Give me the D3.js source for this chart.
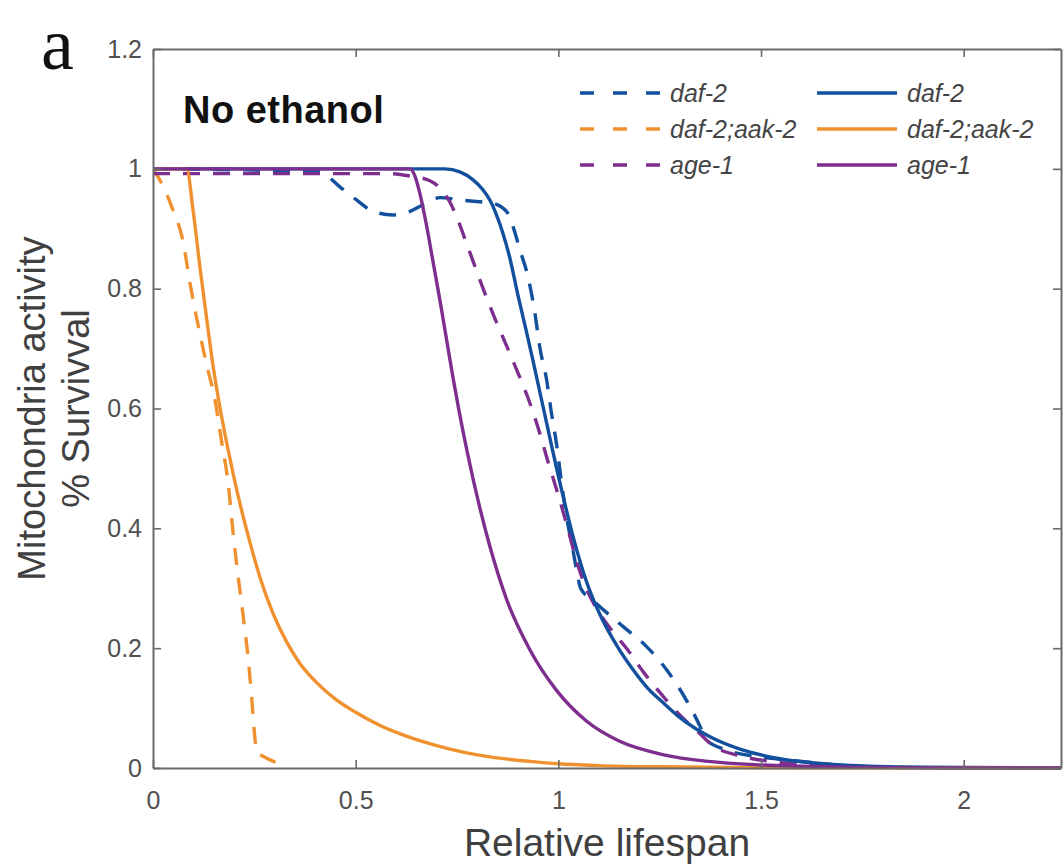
<!DOCTYPE html>
<html>
<head>
<meta charset="utf-8">
<script src="https://cdn.jsdelivr.net/npm/d3@7"></script>
<style>
  body { margin: 0; background: #fff; }
  svg { display: block; }
</style>
</head>
<body>
<svg id="chart" width="1063" height="867"></svg>
<script>
// ---- axis ticks ----
const xTicks = [0, 0.5, 1, 1.5, 2];
const yTicks = [0, 0.2, 0.4, 0.6, 0.8, 1, 1.2];

// ---- strains / legend labels ----
const strains = ["daf-2", "daf-2;aak-2", "age-1"];
const strainColors = ["#12509d", "#f0912f", "#7e2e8e"];

// ---- dashed curves ----
const daf2DashX = [0, 0.41, 0.461, 0.502, 0.543, 0.592, 0.634, 0.666, 0.708, 0.757, 0.806, 0.835, 0.872, 0.888, 0.905, 0.925, 0.942, 0.954, 0.971, 0.983, 0.995, 1.008, 1.02, 1.036, 1.045, 1.055, 1.085, 1.16, 1.217, 1.267, 1.316, 1.35, 1.365, 1.415, 1.49, 1.57, 1.7];
const daf2DashY = [1, 0.995, 0.97, 0.948, 0.929, 0.923, 0.929, 0.94, 0.952, 0.948, 0.945, 0.943, 0.929, 0.904, 0.865, 0.82, 0.76, 0.703, 0.648, 0.592, 0.543, 0.476, 0.42, 0.364, 0.33, 0.30, 0.28, 0.236, 0.203, 0.164, 0.113, 0.069, 0.047, 0.03, 0.019, 0.013, 0.004];

const aak2DashX = [0, 0.005, 0.046, 0.075, 0.091, 0.111, 0.132, 0.153, 0.169, 0.186, 0.198, 0.21, 0.222, 0.234, 0.243, 0.251, 0.256, 0.27, 0.30, 0.33];
const aak2DashY = [1, 0.995, 0.937, 0.876, 0.81, 0.74, 0.674, 0.614, 0.546, 0.472, 0.39, 0.32, 0.256, 0.188, 0.121, 0.053, 0.026, 0.02, 0.01, 0];

const age1DashX = [0, 0.584, 0.634, 0.683, 0.708, 0.732, 0.752, 0.77, 0.79, 0.81, 0.84, 0.872, 0.90, 0.925, 0.95, 0.975, 1.0, 1.024, 1.045, 1.07, 1.10, 1.135, 1.168, 1.21, 1.258, 1.30, 1.345, 1.38, 1.45, 1.55, 1.7];
const age1DashY = [0.992, 0.992, 0.988, 0.98, 0.968, 0.945, 0.915, 0.882, 0.845, 0.808, 0.756, 0.705, 0.66, 0.618, 0.568, 0.51, 0.455, 0.398, 0.345, 0.298, 0.26, 0.227, 0.2, 0.16, 0.12, 0.088, 0.06, 0.038, 0.02, 0.009, 0.003];

// ---- solid curves ----
const daf2SolidX = [0, 0.72, 0.757, 0.789, 0.814, 0.831, 0.848, 0.863, 0.88, 0.90, 0.92, 0.94, 0.96, 0.98, 1.0, 1.02, 1.036, 1.07, 1.10, 1.15, 1.18, 1.218, 1.26, 1.30, 1.38, 1.45, 1.55, 1.7, 1.9, 2.24];
const daf2SolidY = [1, 1, 0.995, 0.982, 0.965, 0.948, 0.922, 0.893, 0.852, 0.79, 0.732, 0.672, 0.61, 0.548, 0.487, 0.43, 0.387, 0.31, 0.26, 0.198, 0.168, 0.135, 0.108, 0.084, 0.05, 0.031, 0.015, 0.005, 0.0012, 0];

const aak2SolidX = [0, 0.083, 0.099, 0.116, 0.132, 0.148, 0.165, 0.182, 0.198, 0.215, 0.239, 0.264, 0.296, 0.33, 0.362, 0.40, 0.45, 0.5, 0.56, 0.61, 0.67, 0.73, 0.8, 0.86, 0.93, 1.0, 1.1, 1.25, 1.5, 2.24];
const aak2SolidY = [1, 1, 0.93, 0.835, 0.752, 0.672, 0.602, 0.542, 0.49, 0.44, 0.377, 0.318, 0.258, 0.21, 0.175, 0.145, 0.115, 0.093, 0.071, 0.057, 0.043, 0.032, 0.022, 0.016, 0.011, 0.007, 0.004, 0.002, 0.0005, 0];

const age1SolidX = [0, 0.634, 0.645, 0.658, 0.675, 0.69, 0.708, 0.724, 0.74, 0.755, 0.775, 0.806, 0.831, 0.872, 0.93, 0.995, 1.07, 1.15, 1.26, 1.37, 1.5, 1.7, 2.0, 2.24];
const age1SolidY = [1, 1, 0.99, 0.96, 0.905, 0.848, 0.78, 0.716, 0.652, 0.596, 0.528, 0.435, 0.37, 0.282, 0.197, 0.13, 0.078, 0.045, 0.022, 0.011, 0.005, 0.0015, 0, 0];

const zip = (xs, ys) => xs.map((x, i) => ({ x, y: ys[i] }));

// draw order: dashed first, solids on top (age-1 last)
const series = [
  { pts: zip(daf2DashX, daf2DashY), color: strainColors[0], dashed: true },
  { pts: zip(aak2DashX, aak2DashY), color: strainColors[1], dashed: true },
  { pts: zip(age1DashX, age1DashY), color: strainColors[2], dashed: true },
  { pts: zip(daf2SolidX, daf2SolidY), color: strainColors[0], dashed: false },
  { pts: zip(aak2SolidX, aak2SolidY), color: strainColors[1], dashed: false },
  { pts: zip(age1SolidX, age1SolidY), color: strainColors[2], dashed: false }
];

const plot = { left: 153, top: 49, right: 1061, bottom: 768 };
const DASH = "17,13";
const LW = 3.4;
const axisColor = "#6a6a6a";
const tickTextColor = "#505050";
const font = "'Liberation Sans', Arial, Helvetica, sans-serif";

const svg = d3.select("#chart");

const x = d3.scaleLinear().domain([0, 2.24]).range([plot.left, plot.right]);
const y = d3.scaleLinear().domain([0, 1.2]).range([plot.bottom, plot.top]);

// clip for the curves
svg.append("defs").append("clipPath").attr("id", "plotClip")
  .append("rect")
  .attr("x", plot.left).attr("y", plot.top - 4)
  .attr("width", plot.right - plot.left).attr("height", plot.bottom - plot.top + 6);

const line = d3.line().x(d => x(d.x)).y(d => y(d.y)).curve(d3.curveMonotoneX);

const curves = svg.append("g").attr("clip-path", "url(#plotClip)");
series.forEach(s => {
  curves.append("path")
    .datum(s.pts)
    .attr("d", line)
    .attr("fill", "none")
    .attr("stroke", s.color)
    .attr("stroke-width", LW)
    .attr("stroke-linejoin", "round")
    .attr("stroke-dasharray", s.dashed ? DASH : null);
});

// ---- axes (box with inward ticks) ----
const fmt = d3.format("~g");
function styleAxis(g) {
  g.selectAll("path.domain").attr("stroke", axisColor).attr("stroke-width", 2);
  g.selectAll(".tick line").attr("stroke", axisColor).attr("stroke-width", 1.6);
  g.selectAll("text").attr("fill", tickTextColor).attr("font-family", font).attr("font-size", 25);
}

svg.append("g")
  .attr("transform", `translate(0,${plot.bottom})`)
  .call(d3.axisBottom(x).tickValues(xTicks).tickFormat(fmt).tickSizeInner(-8).tickSizeOuter(0).tickPadding(23))
  .call(styleAxis);

svg.append("g")
  .attr("transform", `translate(0,${plot.top})`)
  .call(d3.axisTop(x).tickValues(xTicks).tickFormat("").tickSizeInner(-8).tickSizeOuter(0))
  .call(styleAxis);

svg.append("g")
  .attr("transform", `translate(${plot.left},0)`)
  .call(d3.axisLeft(y).tickValues(yTicks).tickFormat(fmt).tickSizeInner(-8).tickSizeOuter(0).tickPadding(11))
  .call(styleAxis);

svg.append("g")
  .attr("transform", `translate(${plot.right},0)`)
  .call(d3.axisRight(y).tickValues(yTicks).tickFormat("").tickSizeInner(-8).tickSizeOuter(0))
  .call(styleAxis);

// ---- axis titles ----
svg.append("text")
  .attr("x", (plot.left + plot.right) / 2)
  .attr("y", 856)
  .attr("text-anchor", "middle")
  .attr("font-family", font)
  .attr("font-size", 39)
  .attr("fill", "#404040")
  .text("Relative lifespan");

const yTitle = svg.append("text")
  .attr("transform", `translate(0,${(plot.top + plot.bottom) / 2}) rotate(-90)`)
  .attr("text-anchor", "middle")
  .attr("font-family", font)
  .attr("font-size", 38)
  .attr("fill", "#404040");
yTitle.append("tspan").attr("x", 0).attr("y", 45).text("Mitochondria activity");
yTitle.append("tspan").attr("x", 0).attr("y", 89).text("% Survivval");

// ---- panel letter and condition label ----
svg.append("text")
  .attr("x", 41).attr("y", 69)
  .attr("font-family", "'Liberation Serif', 'Times New Roman', serif")
  .attr("font-size", 74)
  .attr("fill", "#111")
  .text("a");

svg.append("text")
  .attr("x", 183).attr("y", 123)
  .attr("font-family", font)
  .attr("font-weight", "bold")
  .attr("font-size", 38)
  .attr("letter-spacing", 0.5)
  .attr("fill", "#111")
  .text("No ethanol");

// ---- legend: dashed column, solid column ----
const legendRows = [93, 129, 165];
const legendCols = [
  { x0: 580, x1: 660, tx: 670, dashed: true },
  { x0: 817, x1: 897, tx: 907, dashed: false }
];
const legend = svg.append("g");
legendCols.forEach(col => {
  strains.forEach((name, i) => {
    legend.append("line")
      .attr("x1", col.x0).attr("x2", col.x1)
      .attr("y1", legendRows[i]).attr("y2", legendRows[i])
      .attr("stroke", strainColors[i])
      .attr("stroke-width", LW)
      .attr("stroke-dasharray", col.dashed ? "14,19" : null);
    legend.append("text")
      .attr("x", col.tx).attr("y", legendRows[i])
      .attr("dy", "0.35em")
      .attr("font-family", font)
      .attr("font-style", "italic")
      .attr("font-size", 25)
      .attr("fill", "#444")
      .text(name);
  });
});
</script>
</body>
</html>
